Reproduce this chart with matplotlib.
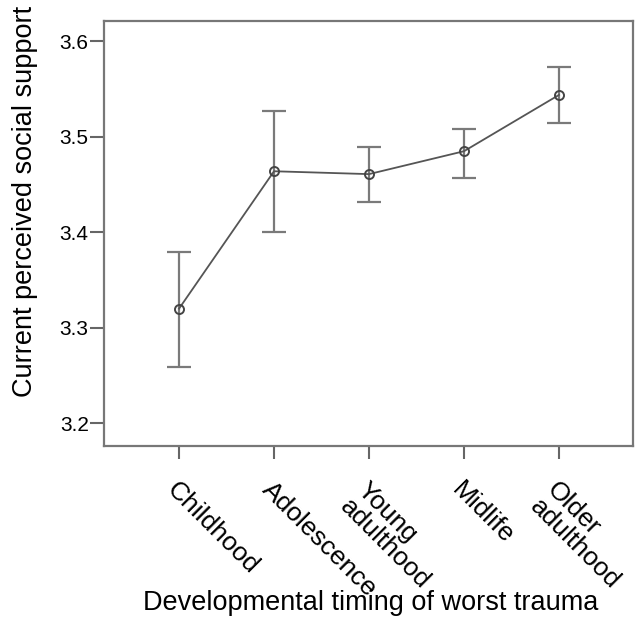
import matplotlib
matplotlib.use("Agg")
import matplotlib.pyplot as plt

plt.rcParams['font.family'] = ['Liberation Sans', 'DejaVu Sans']

categories = ["Childhood", "Adolescence", "Young\nadulthood", "Midlife", "Older\nadulthood"]
means = [3.320, 3.464, 3.461, 3.485, 3.544]
ci_low = [3.259, 3.400, 3.432, 3.457, 3.515]
ci_high = [3.379, 3.527, 3.489, 3.508, 3.573]
yticks = [3.2, 3.3, 3.4, 3.5, 3.6]

fig = plt.figure(figsize=(6.44, 6.35), dpi=100)
ax = fig.add_axes([0.1615, 0.2976, 0.8215, 0.6701])

x = list(range(len(categories)))
err_lo = [m - l for m, l in zip(means, ci_low)]
err_hi = [h - m for m, h in zip(means, ci_high)]

ax.errorbar(x, means, yerr=[err_lo, err_hi], fmt='none', ecolor='#7a7a7a',
            elinewidth=1.6, capsize=8.3, capthick=1.6)
ax.plot(x, means, color='#555555', lw=1.3, marker='o', ms=6.5,
        mfc='none', mec='#444444', mew=1.4)

ax.set_xlim(-0.79, 4.78)
ax.set_ylim(3.176, 3.622)
ax.set_yticks(yticks)
ax.set_yticklabels([f"{v:.1f}" for v in yticks])
ax.set_xticks(x)
ax.set_xticklabels(categories, rotation=-45, ha='left', va='top',
                   rotation_mode='anchor', linespacing=0.95)

ax.tick_params(axis='y', labelsize=15, length=10, pad=1, color='#666666', width=1.5)
ax.tick_params(axis='x', labelsize=19, length=9, pad=14, color='#666666', width=1.5)
for s in ax.spines.values():
    s.set_color('#777777')
    s.set_linewidth(1.6)

ax.set_ylabel("Current perceived social support", fontsize=19.5)
ax.yaxis.set_label_coords(-0.124, 0.575)
ax.set_xlabel("Developmental timing of worst trauma", fontsize=19.5)
ax.xaxis.set_label_coords(0.505, -0.338)

fig.savefig("out.png", dpi=100)
